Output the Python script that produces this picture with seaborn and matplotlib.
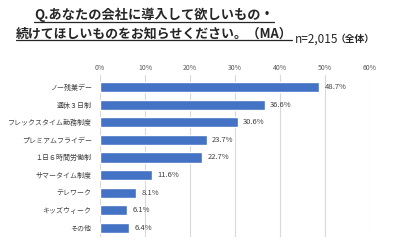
import matplotlib
matplotlib.use("Agg")
import matplotlib.pyplot as plt
import seaborn as sns
import pandas as pd
from matplotlib.lines import Line2D

# data
items = ["ノー残業デー", "週休３日制", "フレックスタイム勤務制度", "プレミアムフライデー",
         "１日６時間労働制", "サマータイム制度", "テレワーク", "キッズウィーク", "その他"]
percent = [48.7, 36.6, 30.6, 23.7, 22.7, 11.6, 8.1, 6.1, 6.4]
x_ticks = [0, 10, 20, 30, 40, 50, 60]

df = pd.DataFrame({"item": items, "pct": percent})

sns.set_theme(style="white")
plt.rcParams["font.family"] = ["Noto Sans CJK JP", "DejaVu Sans"]

fig = plt.figure(figsize=(4.0, 2.52), dpi=100)
ax = fig.add_axes([0.25, 0.06, 0.675, 0.642])

sns.barplot(data=df, x="pct", y="item", color="#4472C4", saturation=1,
            width=0.57, ax=ax, zorder=3)

ax.set_xlim(0, 60)
ax.set_ylim(8.51, -0.68)
ax.set_xticks(x_ticks)
ax.set_xticklabels([f"{t}%" for t in x_ticks], fontsize=5, color="#595959")
ax.xaxis.tick_top()
ax.tick_params(axis="x", length=0, pad=2)
ax.tick_params(axis="y", length=0, pad=6, labelsize=5, labelcolor="#404040")
ax.set_xlabel("")
ax.set_ylabel("")
ax.grid(axis="x", color="#D9D9D9", linewidth=0.8, zorder=0)
for s in ax.spines.values():
    s.set_visible(False)

for i, v in enumerate(percent):
    ax.text(v + 1.2, i, f"{v}%", va="center", ha="left", fontsize=5.5, color="#404040")

# title with underline
t1 = fig.text(0.385, 0.94, "Q.あなたの会社に導入して欲しいもの・", ha="center", va="center",
              fontsize=9.5, fontweight="bold", color="#262626")
t2 = fig.text(0.385, 0.868, "続けてほしいものをお知らせください。（MA）", ha="center", va="center",
              fontsize=9.3, fontweight="bold", color="#262626")
n_txt = fig.text(0.738, 0.845, "n=2,015", ha="left", va="center", fontsize=8.5,
                 color="#262626")

fig.canvas.draw()
r = fig.canvas.get_renderer()
nb = n_txt.get_window_extent(r).transformed(fig.transFigure.inverted())
fig.text(nb.x1 - 0.008, 0.845, "（全体）", ha="left", va="center", fontsize=7,
         fontweight="bold", color="#262626")
for t in (t1, t2):
    bb = t.get_window_extent(r).transformed(fig.transFigure.inverted())
    fig.add_artist(Line2D([bb.x0, bb.x1], [bb.y0 + 0.002, bb.y0 + 0.002],
                          color="#262626", linewidth=0.9, transform=fig.transFigure))

fig.savefig("out.png", dpi=100)
